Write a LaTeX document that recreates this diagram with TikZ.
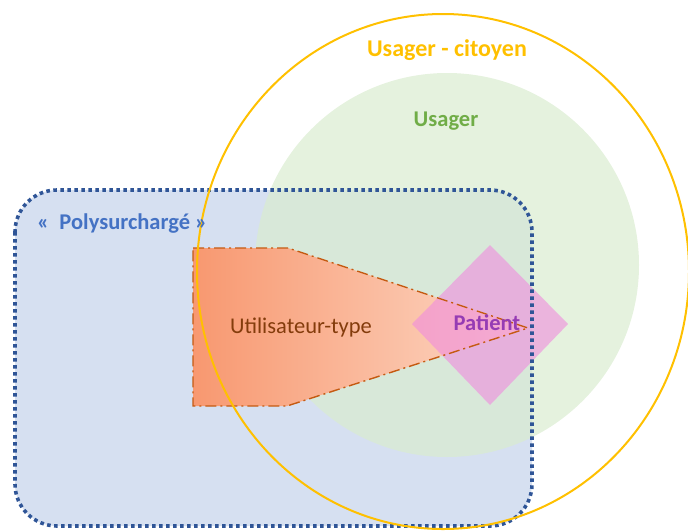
\documentclass[tikz,border=0pt]{standalone}
\usepackage{fontspec}
\setmainfont{Carlito}
\definecolor{polyfill}{RGB}{214,224,241}
\definecolor{polyline}{RGB}{47,85,151}
\definecolor{polytext}{RGB}{68,114,196}
\definecolor{usagerfill}{RGB}{218,236,208}
\definecolor{usagertext}{RGB}{112,173,71}
\definecolor{citoyen}{RGB}{255,192,0}
\definecolor{utilleft}{RGB}{248,152,112}
\definecolor{utilright}{RGB}{252,218,200}
\definecolor{utilline}{RGB}{197,90,17}
\definecolor{utiltext}{RGB}{132,60,12}
\definecolor{patientfill}{RGB}{240,140,222}
\definecolor{patienttext}{RGB}{150,60,180}
\tikzset{
  lbl/.style={font=\bfseries\fontsize{22.5}{26}\selectfont, inner sep=0pt},
  dotline/.style={draw=polyline, line width=3.6pt, dash pattern=on 3.6pt off 3.4pt},
  dashdotline/.style={draw=utilline, line width=1.4pt, dash pattern=on 11pt off 4pt on 2pt off 4pt}
}
\begin{document}
\begin{tikzpicture}[x=1pt,y=-1pt]
\useasboundingbox (0,0) rectangle (688,531);
% Polysurcharge fill
\fill[polyfill, rounded corners=42pt] (15,190) rectangle (532,526);
% Usager circle
\fill[usagerfill, opacity=0.7] (447,265) circle[radius=192];
% Utilisateur-type polygon
\shade[left color=utilleft, right color=utilright]
  (193,248) -- (288,248) -- (528,328) -- (287,406) -- (193,406) -- cycle;
% Patient diamond
\fill[patientfill, opacity=0.6] (490,245) -- (568,324) -- (490,405) -- (412,324) -- cycle;
\draw[dashdotline] (193,248) -- (288,248) -- (528,328) -- (287,406) -- (193,406) -- cycle;
% Polysurcharge border
\draw[dotline, rounded corners=42pt] (15,190) rectangle (532,526);
% Usager-citoyen ellipse
\draw[citoyen, line width=2pt] (443,271.5) ellipse[x radius=246, y radius=257.5];
% labels
\node[lbl, text=citoyen, font=\bfseries\fontsize{24}{28}\selectfont] (cit) at (447,50) {Usager - citoyen};
\node[lbl, text=usagertext] (usa) at (446,121) {Usager};
\node[lbl, text=polytext, anchor=west] (poly) at (37,224) {«\ \ Polysurchargé »};
\node[font=\fontsize{22.5}{26}\selectfont, inner sep=0pt, text=utiltext] (util) at (301,327) {Utilisateur-type};
\node[lbl, text=patienttext] (pat) at (487,323) {Patient};
\end{tikzpicture}
\end{document}
